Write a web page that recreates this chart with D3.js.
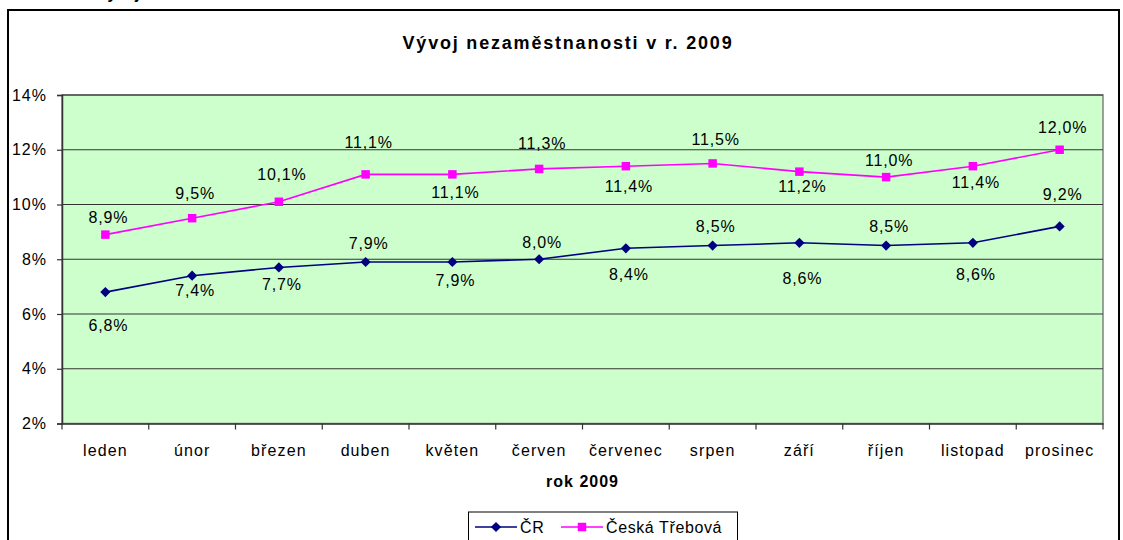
<!DOCTYPE html>
<html>
<head>
<meta charset="utf-8">
<script src="https://cdn.jsdelivr.net/npm/d3@7"></script>
<style>
  body { margin: 0; background: #fff; }
  svg text { font-family: "Liberation Sans", Arial, sans-serif; fill: #000; }
</style>
</head>
<body>
<svg id="chart" width="1123" height="540"></svg>
<script>
// data
var months = ['leden', 'únor', 'březen', 'duben', 'květen', 'červen', 'červenec', 'srpen', 'září', 'říjen', 'listopad', 'prosinec']
var crValues = [6.8, 7.4, 7.7, 7.9, 7.9, 8.0, 8.4, 8.5, 8.6, 8.5, 8.6, 9.2]
var ctValues = [8.9, 9.5, 10.1, 11.1, 11.1, 11.3, 11.4, 11.5, 11.2, 11.0, 11.4, 12.0]
var yTicks = [2, 4, 6, 8, 10, 12, 14]

// label placement (px from the point, negative = above)
var crLabelDy = [33, 15, 17, -19, 18, -17, 26, -19, 35, -19, 31, -32]
var ctLabelDy = [-17, -25, -28, -32, 18, -26, 20, -24, 15, -17, 16, -23]

var svg = d3.select('#chart')
var margin = {top: 95, left: 62}
var width = 1103 - 62
var height = 423.5 - 95

// outer frame + clipped text from above
svg.append('text')
  .attr('x', 98).attr('y', -1)
  .attr('font-size', 16).attr('font-weight', 'bold').attr('font-style', 'italic')
  .text('Vývoj')
svg.append('rect')
  .attr('x', 8).attr('y', 10).attr('width', 1111).attr('height', 545)
  .attr('fill', 'none').attr('stroke', '#000').attr('stroke-width', 2)

// title
svg.append('text')
  .attr('x', 568).attr('y', 49)
  .attr('text-anchor', 'middle')
  .attr('font-size', 18).attr('font-weight', 'bold')
  .attr('letter-spacing', 1.8)
  .text('Vývoj nezaměstnanosti v r. 2009')

var x = d3.scaleBand().domain(months).range([0, width])
var y = d3.scaleLinear().domain([2, 14]).range([height, 0])

var g = svg.append('g')
  .attr('transform', 'translate(' + margin.left + ',' + margin.top + ')')

// plot background
g.append('rect')
  .attr('width', width).attr('height', height)
  .attr('fill', '#CCFFCC').attr('stroke', '#808080').attr('stroke-width', 1.5)

// gridlines
g.selectAll('.grid').data(yTicks.slice(1, -1)).enter()
  .append('line')
  .attr('x1', 0).attr('x2', width)
  .attr('y1', (d) => y(d)).attr('y2', (d) => y(d))
  .attr('stroke', '#333').attr('stroke-width', 1.2)
g.append('line')
  .attr('x1', 0).attr('x2', width)
  .attr('y1', y(14)).attr('y2', y(14))
  .attr('stroke', '#555').attr('stroke-width', 1.5)

// y axis
var yAxis = g.append('g')
  .call(d3.axisLeft(y).tickValues(yTicks).tickSize(5).tickPadding(10).tickFormat((d) => d + '%'))
yAxis.select('.domain').attr('stroke', '#333').attr('stroke-width', 1.5)
yAxis.selectAll('.tick line').attr('stroke', '#333').attr('stroke-width', 1.2)
yAxis.selectAll('text')
  .attr('font-size', 16).attr('letter-spacing', 1).attr('fill', '#000')
  .style('font-family', '"Liberation Sans", Arial, sans-serif')

// x axis
var xAxis = g.append('g')
  .attr('transform', 'translate(0,' + height + ')')
  .call(d3.axisBottom(x).tickSize(0).tickPadding(21))
xAxis.select('.domain').attr('stroke', '#333').attr('stroke-width', 1.5)
xAxis.selectAll('text')
  .attr('font-size', 16).attr('letter-spacing', 1.1).attr('fill', '#000')
  .style('font-family', '"Liberation Sans", Arial, sans-serif')
// category boundary ticks
xAxis.selectAll('.bnd').data(months.concat(['end'])).enter()
  .append('line')
  .attr('x1', (d, i) => i * x.step()).attr('x2', (d, i) => i * x.step())
  .attr('y1', 0).attr('y2', 6)
  .attr('stroke', '#333').attr('stroke-width', 1.2)

// x axis title
svg.append('text')
  .attr('x', margin.left + width / 2).attr('y', 487)
  .attr('text-anchor', 'middle')
  .attr('font-size', 16).attr('font-weight', 'bold').attr('letter-spacing', 1)
  .text('rok 2009')

var cx = (d, i) => x(months[i]) + x.bandwidth() / 2
var line = d3.line().x(cx).y((d) => y(d))

var fmt = (v) => d3.format('.1f')(v).replace('.', ',') + '%'

function drawSeries (values, color, symbol, size, rot, dys) {
  g.append('path').datum(values)
    .attr('fill', 'none').attr('stroke', color).attr('stroke-width', 1.6)
    .attr('d', line)
  g.selectAll(null).data(values).enter()
    .append('path')
    .attr('d', d3.symbol().type(symbol).size(size))
    .attr('transform', (d, i) => 'translate(' + cx(d, i) + ',' + y(d) + ') rotate(' + rot + ')')
    .attr('fill', color)
  g.selectAll(null).data(values).enter()
    .append('text')
    .attr('x', (d, i) => cx(d, i) + 3)
    .attr('y', (d, i) => y(d) + dys[i])
    .attr('dy', '0.36em')
    .attr('text-anchor', 'middle')
    .attr('font-size', 16).attr('letter-spacing', 0.8)
    .text(fmt)
}

drawSeries(ctValues, '#FF00FF', d3.symbolSquare, 72, 0, ctLabelDy)
drawSeries(crValues, '#000080', d3.symbolSquare, 52, 45, crLabelDy)

// legend
var lg = svg.append('g')
lg.append('rect')
  .attr('x', 468.5).attr('y', 512).attr('width', 269).attr('height', 40)
  .attr('fill', '#fff').attr('stroke', '#000').attr('stroke-width', 1)
var legendItems = [
  {name: 'ČR', color: '#000080', size: 52, rot: 45, x0: 475},
  {name: 'Česká Třebová', color: '#FF00FF', size: 72, rot: 0, x0: 561}
]
legendItems.forEach(function (it) {
  lg.append('line')
    .attr('x1', it.x0).attr('x2', it.x0 + 42)
    .attr('y1', 527).attr('y2', 527)
    .attr('stroke', it.color).attr('stroke-width', 1.6)
  lg.append('path')
    .attr('d', d3.symbol().type(d3.symbolSquare).size(it.size))
    .attr('transform', 'translate(' + (it.x0 + 21) + ',527) rotate(' + it.rot + ')')
    .attr('fill', it.color)
  lg.append('text')
    .attr('x', it.x0 + 45).attr('y', 533)
    .attr('font-size', 16).attr('letter-spacing', 0.6)
    .text(it.name)
})
</script>
</body>
</html>
